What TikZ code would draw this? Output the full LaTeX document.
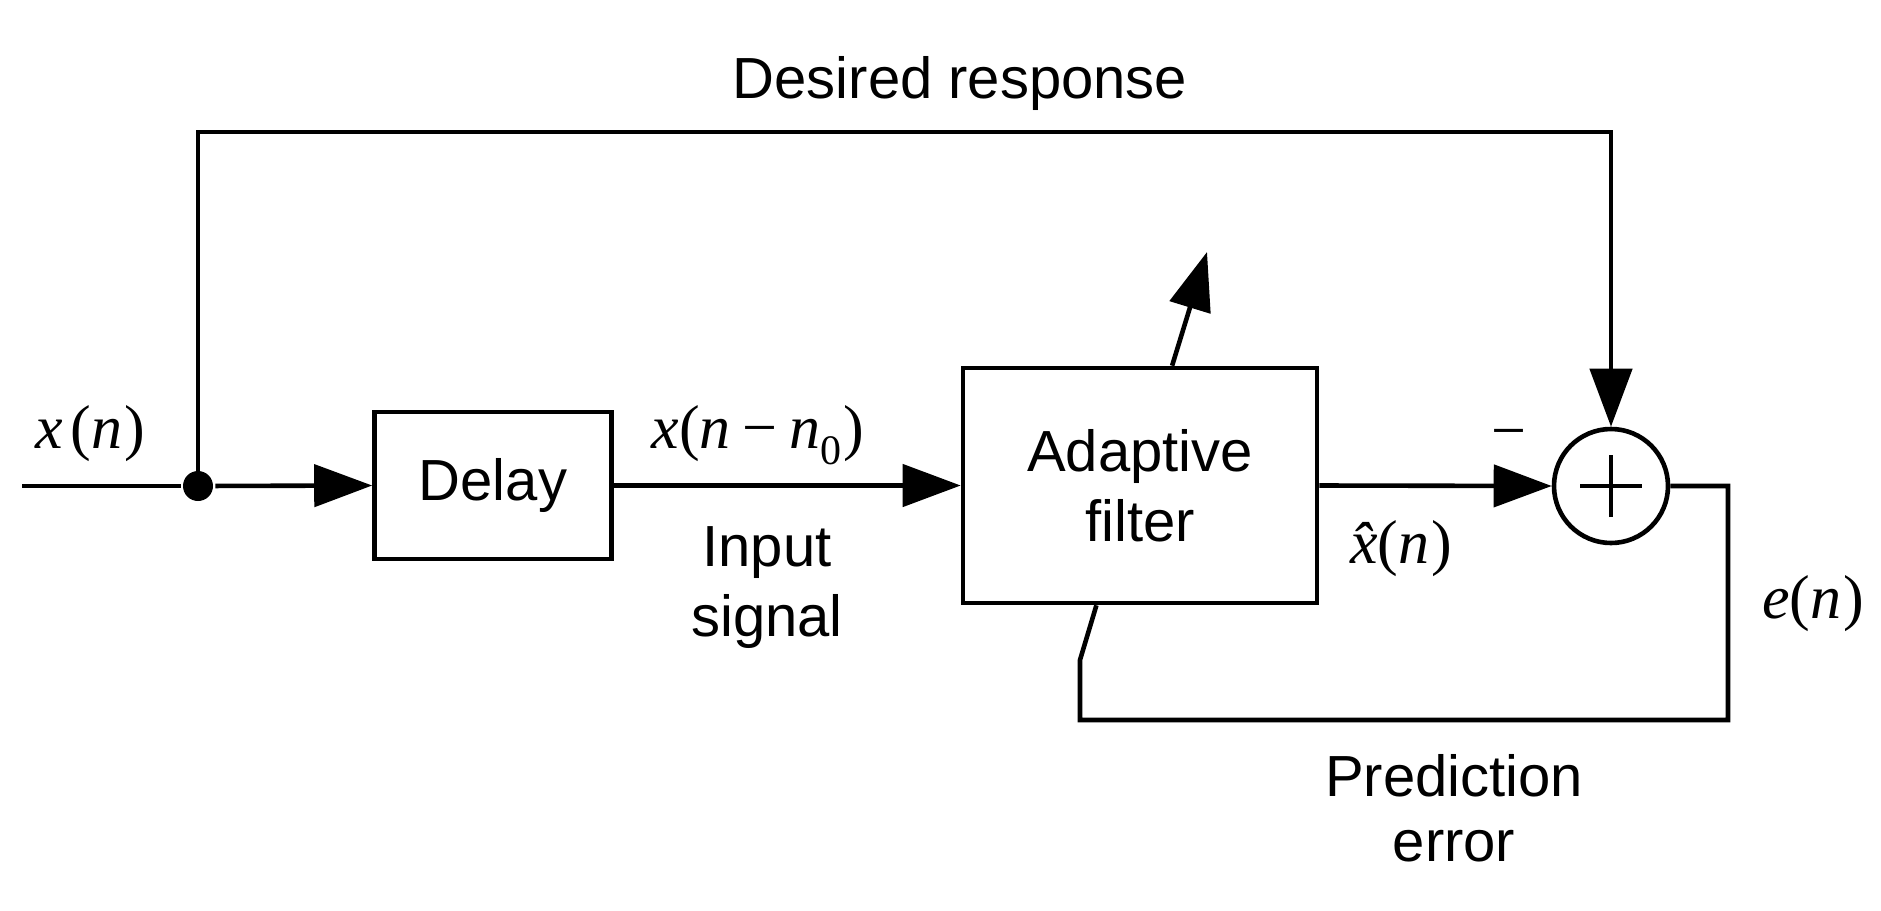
\documentclass[tikz,border=0pt]{standalone}
\usepackage{fontspec}
\setmainfont{Liberation Sans}
\newfontfamily\lserif{Liberation Serif}
\usetikzlibrary{arrows.meta,calc}
\newcommand{\mi}[1]{{\lserif\itshape #1}}
\begin{document}
\begin{tikzpicture}[x=0.5pt,y=-0.5pt,line width=2.3pt,
  blockbox/.style={draw, line width=2.3pt, inner sep=0pt, font=\fontsize{29}{35}\selectfont, align=center},
  arr/.style={-{Triangle[length=29pt,width=21pt]}},
  lbl/.style={inner sep=0pt, font=\fontsize{29}{35}\selectfont, align=center},
  mlbl/.style={inner sep=0pt, font=\fontsize{31}{34}\selectfont\lserif},
  plusstroke/.style={line width=1.8pt}]
\path[use as bounding box] (0,0) rectangle (1881,911);
% blocks
\node[blockbox, minimum width=118.5pt, minimum height=73.5pt] (delay) at (493,485.5) {Delay};
\node[blockbox, minimum width=177pt, minimum height=117.5pt] (filter) at (1140,485.5) {Adaptive\\filter};
\node[circle, draw, line width=2.3pt, minimum size=57pt, inner sep=0pt,
  path picture={
    \draw[plusstroke] ([xshift=-15.5pt]path picture bounding box.center) -- ([xshift=15.5pt]path picture bounding box.center);
    \draw[plusstroke] ([yshift=-15.5pt]path picture bounding box.center) -- ([yshift=15.5pt]path picture bounding box.center);
  }] (sum) at (1611,486) {};
\node[circle, fill, inner sep=0pt, minimum size=15pt] (dot) at (198,486) {};
% coordinates
\coordinate (in) at (22,486);
\coordinate (tl) at (198,132);
\coordinate (adapt) at (1207,252);
\coordinate (fbr) at (1728,720);
\coordinate (fbl) at (1080,720);
\coordinate (fbk) at (1080,660);
% connectors
\draw (in) -- (dot);
\draw[arr] (dot) -- (delay.west);
\draw[arr] (delay.east) -- (filter.west);
\draw[arr] (filter.east) -- (sum.west);
\draw[arr] (dot.center) -- (tl) -- (tl -| sum) -- (sum.north);
\draw[arr] (filter.75) -- (adapt);
\draw (sum.east) -- (sum.east -| fbr) -- (fbr) -- (fbl) -- (fbk) -- (filter.250);
% labels
\node[lbl, anchor=base] (desired) at (960,98) {Desired response};
\node[lbl] (input) at (767,588) {Input\\signal};
\node[lbl, font=\fontsize{29}{32.5}\selectfont] (prederr) at (1454,808) {Prediction\\error};
\node[mlbl, anchor=base west] (xn) at (33,448) {\mi{x}\kern4pt(\mi{n}\kern1pt)};
\node[mlbl, anchor=base] (xnn) at (758,448) {\mi{x}(\mi{n}\kern6pt−\kern6pt\mi{n}\raisebox{-8pt}{\fontsize{21}{21}\selectfont 0}\kern1pt)};
\node[mlbl, anchor=base] (xhat) at (1401,563) {\mi{\^{x}}(\mi{n}\kern1pt)};
\node[mlbl, anchor=base] (en) at (1813,618) {\mi{e}(\mi{n}\kern1pt)};
\node[mlbl, anchor=base] (minus) at (1509,451) {−};
\end{tikzpicture}
\end{document}
